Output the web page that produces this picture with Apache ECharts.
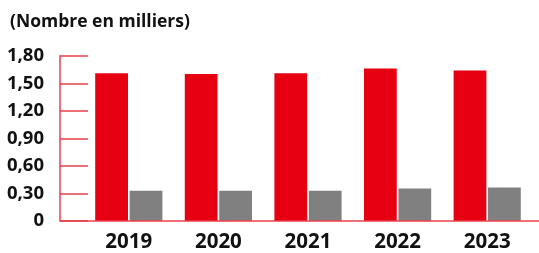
<!DOCTYPE html>
<html>
<head>
    <meta charset="utf-8">
    <title>Nombre en milliers</title>
    <script src="https://cdn.jsdelivr.net/npm/echarts@6/dist/echarts.min.js"></script>
    <style>
        html, body { margin: 0; padding: 0; background: #fff; }
        #chart { width: 539px; height: 253px; }
    </style>
</head>
<body>
<div id="chart"></div>
<script>
    // données
    var years = ['2019', '2020', '2021', '2022', '2023'];
    var serieRouge = [1.61, 1.60, 1.61, 1.66, 1.64];
    var serieGris = [0.33, 0.33, 0.33, 0.355, 0.365];
    var yTicks = [0, 0.3, 0.6, 0.9, 1.2, 1.5, 1.8];

    var axisColor = '#e8404b';
    var font = '"Open Sans", sans-serif';

    var $echart = echarts.init(document.getElementById('chart'));

    $echart.setOption({
        animation: false,
        title: {
            text: '(Nombre en milliers)',
            left: 5,
            top: 8,
            textStyle: { fontFamily: font, fontSize: 17.5, fontWeight: 'bold', color: '#111' }
        },
        grid: { left: 84, right: 7, top: 55.7, bottom: 31.3, containLabel: false },
        xAxis: {
            type: 'category',
            data: years,
            axisLine: { show: false },
            axisTick: { show: false },
            axisLabel: {
                margin: 11,
                fontFamily: font, fontSize: 20.5, fontWeight: 'bold', color: '#111'
            }
        },
        yAxis: {
            type: 'value',
            min: yTicks[0],
            max: yTicks[yTicks.length - 1],
            interval: 0.3,
            offset: 24,
            axisLine: { show: true, lineStyle: { color: axisColor, width: 1.5 } },
            axisTick: { show: true, inside: true, length: 28, lineStyle: { color: axisColor, width: 1.5 } },
            splitLine: { show: false },
            axisLabel: {
                margin: 16,
                fontFamily: font, fontSize: 18.5, fontWeight: 'bold', color: '#111',
                formatter: function (v) {
                    return v === 0 ? '0' : v.toFixed(2).replace('.', ',');
                }
            }
        },
        series: [
            {
                type: 'bar',
                data: serieRouge,
                itemStyle: { color: '#e60012' },
                barCategoryGap: '25%',
                barGap: '5%'
            },
            {
                type: 'bar',
                data: serieGris,
                itemStyle: { color: '#808080' }
            }
        ]
    });

    // ligne de base qui part de l'axe des y jusqu'au bord
    var y0 = $echart.convertToPixel({ yAxisIndex: 0 }, 0);
    $echart.setOption({
        graphic: [{
            type: 'line',
            shape: { x1: 60, y1: y0, x2: 539, y2: y0 },
            style: { stroke: axisColor, lineWidth: 1.5 },
            z: 10
        }]
    });
</script>
</body>
</html>
